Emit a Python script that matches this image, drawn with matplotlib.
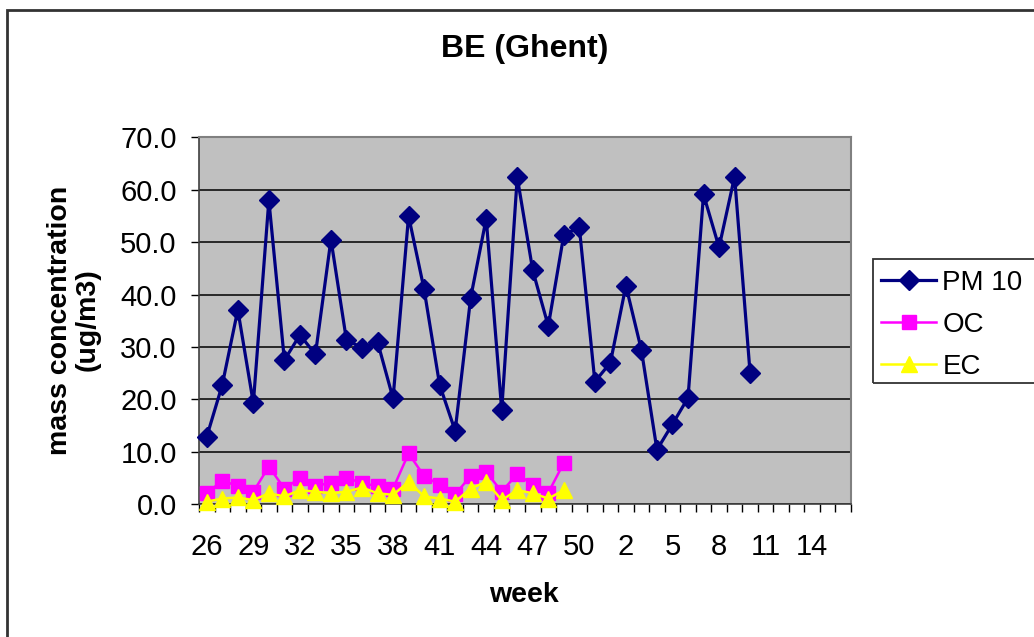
import numpy as np
import matplotlib
matplotlib.use("Agg")
import matplotlib.pyplot as plt
from matplotlib.patches import Rectangle

plt.rcParams['font.family'] = ['Liberation Sans', 'DejaVu Sans']

# week numbers on the category axis (year wraps after week 52)
weeks = list(range(26, 53)) + list(range(2, 17))

pm10 = [12.9, 22.8, 37.1, 19.3, 58.0, 27.5, 32.3, 28.6, 50.5, 31.3,
        29.9, 31.0, 20.2, 55.0, 41.0, 22.8, 14.0, 39.4, 54.5, 18.0,
        62.4, 44.6, 34.0, 51.4, 52.8, 23.4, 27.0, 41.7, 29.4, 10.4,
        15.3, 20.3, 59.1, 49.0, 62.5, 25.0]
oc = [2.1, 4.5, 3.5, 2.4, 7.2, 3.0, 5.0, 3.5, 4.1, 5.0,
      4.1, 3.4, 3.0, 9.7, 5.4, 3.7, 1.9, 5.4, 6.2, 2.4,
      5.8, 3.7, 2.2, 7.9]
ec = [0.5, 1.1, 1.3, 0.8, 2.1, 1.5, 2.7, 2.4, 2.1, 2.4,
      3.2, 2.1, 1.8, 4.3, 1.5, 1.1, 0.5, 3.0, 4.3, 0.8,
      2.7, 2.1, 1.1, 2.7]

W, H = 1034, 637
fig = plt.figure(figsize=(W / 100, H / 100), dpi=100)
ax = fig.add_axes([199 / W, 1 - 504.3 / H, (851 - 199) / W, (504.3 - 137.3) / H])
ax.set_facecolor('#C0C0C0')

ax.plot(np.arange(len(pm10)), pm10, color='#000080', lw=2.3, marker='D',
        ms=10, label='PM 10', clip_on=False, zorder=3)
ax.plot(np.arange(len(oc)), oc, color='#FF00FF', lw=1.8, marker='s',
        ms=10, label='OC', clip_on=False, zorder=4)
ax.plot(np.arange(len(ec)), ec, color='#FFFF00', lw=1.8, marker='^',
        ms=11, label='EC', clip_on=False, zorder=5)

ax.set_xlim(-0.5, len(weeks) - 0.5)
ax.set_ylim(0, 70)
ax.set_yticks(np.arange(0, 71, 10))
ax.set_yticklabels(['%.1f' % v for v in np.arange(0, 71, 10)])
ax.yaxis.grid(True, color='black', lw=1.1)
ax.set_axisbelow(True)

lab_pos = np.arange(0, len(weeks), 3)
ax.set_xticks(lab_pos)
ax.set_xticklabels([str(weeks[i]) for i in lab_pos])
ax.set_xticks(np.arange(-0.5, len(weeks), 1), minor=True)
ax.tick_params(axis='x', which='major', length=0, pad=21, labelsize=21)
ax.tick_params(axis='x', which='minor', length=6, width=1, direction='out')
ax.tick_params(axis='y', length=6, width=1, direction='out', pad=10, labelsize=21)

for s in ['top', 'right']:
    ax.spines[s].set_color('#808080')
    ax.spines[s].set_linewidth(1.5)
for s in ['left', 'bottom']:
    ax.spines[s].set_color('#404040')
    ax.spines[s].set_linewidth(1.2)

fig.text(525 / W, 1 - 49 / H, 'BE (Ghent)', ha='center', va='center',
         fontsize=23, fontweight='bold')
fig.text(524 / W, 1 - 595 / H, 'week', ha='center', va='center',
         fontsize=20.5, fontweight='bold')
fig.text(74 / W, 1 - 320 / H, 'mass concentration\n(ug/m3)', ha='center',
         va='center', rotation=90, fontsize=20.5, fontweight='bold',
         linespacing=1.1)

leg = fig.legend(loc='upper left', bbox_to_anchor=(871 / W, 1 - 260 / H),
                 fontsize=20, frameon=False, handlelength=2.0,
                 handletextpad=0.22, labelspacing=0.58, borderpad=0.35,
                 borderaxespad=0)

# legend frame, running off the right edge like the original
fig.patches.append(Rectangle((873 / W, 1 - 383 / H), 200 / W, 124 / H,
                             fill=False, edgecolor='#333333', lw=1.3,
                             transform=fig.transFigure, figure=fig))

# chart area border (cut off at right and bottom)
fig.patches.append(Rectangle((7 / W, -0.1), 2, 1.1 - 10 / H, fill=False,
                             edgecolor='#333333', lw=2,
                             transform=fig.transFigure, figure=fig))

fig.savefig('out.png', dpi=100)
